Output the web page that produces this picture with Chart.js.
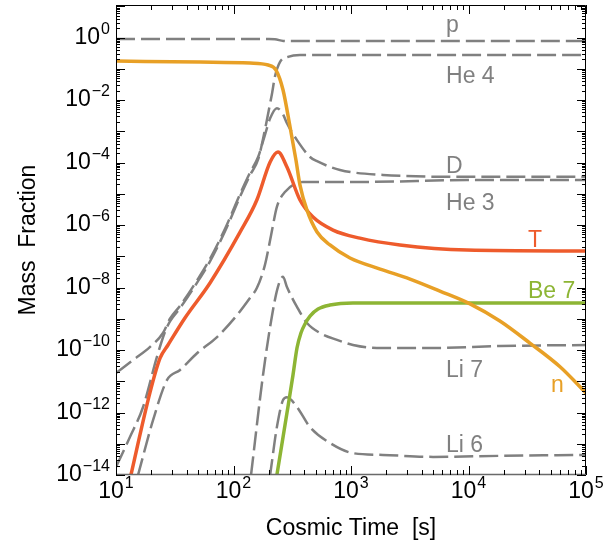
<!DOCTYPE html>
<html>
<head>
<meta charset="utf-8">
<script src="https://cdn.jsdelivr.net/npm/chart.js@4.4.1/dist/chart.umd.min.js"></script>
<style>
    body { margin: 0; background: #fff; }
    #wrap { width: 616px; height: 548px; position: relative; }
</style>
</head>
<body>
<div id="wrap"><canvas id="bbn-chart"></canvas></div>
<script>
// cosmic time [s] and mass fraction, one pair per species
const tP   = [10, 200, 225, 265, 300, 1e5];
const yP   = [0.89, 0.89, 0.88, 0.78, 0.77, 0.77];

const tHe4 = [10, 13.2, 17, 22.3, 26.1, 28.8, 35.1, 49.9, 63.1, 84.7, 114, 138, 162, 185, 205, 213, 225, 249, 291, 368, 1e5];
const yHe4 = [1.8e-14, 1.7e-13, 1.5e-12, 6.0e-11, 3.8e-10, 8.3e-10, 2.2e-9, 1.6e-8, 6.9e-8, 6.3e-7, 8.3e-6, 3.9e-5, 1.26e-4, 1.1e-3, 7.9e-3, 1.66e-2, 5.5e-2, 0.166, 0.24, 0.275, 0.275];

const tD   = [10, 14.0, 19.5, 25.1, 28.8, 35.1, 49.9, 63.1, 84.7, 114, 138, 162, 185, 205, 234, 264, 285, 347, 448, 514, 806, 1870, 9700, 1e5];
const yD   = [1.84e-11, 4.8e-11, 1.26e-10, 3.5e-10, 1.0e-9, 2.6e-9, 1.9e-8, 8.3e-8, 7.6e-7, 1.0e-5, 4.7e-5, 1.5e-4, 7.6e-4, 2.6e-3, 5.5e-3, 3.5e-3, 1.8e-3, 5.2e-4, 1.5e-4, 1.1e-4, 5.8e-5, 4.0e-5, 3.5e-5, 3.5e-5];

const tHe3 = [13.4, 15.4, 20.7, 27.2, 35.1, 48.9, 72.4, 107, 138, 158, 185, 205, 213, 234, 274, 390, 1370, 9700, 1e5];
const yHe3 = [1.5e-15, 1e-14, 5.8e-13, 1.1e-11, 2.3e-11, 7.9e-11, 2.6e-10, 1.3e-9, 4.6e-9, 9.6e-9, 5.2e-8, 3.3e-7, 6.9e-7, 3.8e-6, 1.14e-5, 2.4e-5, 2.4e-5, 2.75e-5, 2.75e-5];

const tT   = [11.9, 13.4, 19.5, 23.7, 27.7, 38.6, 63.1, 114, 158, 205, 239, 285, 368, 475, 703, 1190, 2610, 9700, 1e5];
const yT   = [1.4e-15, 1e-14, 4.5e-12, 5.5e-11, 1.45e-10, 1.06e-9, 1.4e-8, 6.0e-7, 6.3e-6, 1.04e-4, 2.17e-4, 7.2e-5, 6.3e-6, 1.8e-6, 6.9e-7, 3.8e-7, 2.3e-7, 1.58e-7, 1.47e-7];

const tN   = [10, 51.9, 138, 197, 230, 264, 303, 340, 368, 422, 514, 662, 980, 1770, 3180, 5710, 10300, 18500, 33300, 60100, 1e5];
const yN   = [0.177, 0.164, 0.153, 0.132, 0.091, 0.021, 1.37e-3, 1.2e-4, 1.9e-5, 3.0e-6, 6.0e-7, 2.3e-7, 8.8e-8, 3.9e-8, 1.87e-8, 7.7e-9, 3.0e-9, 8.5e-10, 1.67e-10, 2.9e-11, 4.2e-12];

const tBe7 = [217, 234, 285, 321, 347, 375, 406, 448, 524, 662, 1040, 1e5];
const yBe7 = [1.6e-15, 1e-14, 9.6e-13, 1.6e-11, 1.16e-10, 3.5e-10, 6.8e-10, 1.22e-9, 2.05e-9, 2.75e-9, 3.2e-9, 3.2e-9];

const tLi7 = [133, 141, 178, 213, 239, 264, 285, 347, 422, 545, 760, 1040, 1660, 4990, 18500, 1e5];
const yLi7 = [1.6e-15, 1e-14, 1.5e-11, 1.3e-9, 1.05e-8, 2.2e-8, 1.04e-8, 2.4e-9, 7.3e-10, 3.5e-10, 2.1e-10, 1.45e-10, 1.16e-10, 1.16e-10, 1.34e-10, 1.45e-10];

const tLi6 = [189, 205, 234, 264, 285, 347, 448, 662, 1040, 1870, 4990, 18500, 1e5];
const yLi6 = [1.3e-15, 1e-14, 3.4e-13, 2.5e-12, 3.1e-12, 1.5e-12, 3.4e-13, 1.06e-13, 5.0e-14, 4.4e-14, 3.8e-14, 4.1e-14, 4.4e-14];

// axis ticks (decade exponents)
const xDecades = [1, 2, 3, 4, 5];
const yLabelDecades = [0, -2, -4, -6, -8, -10, -12, -14];

// curve tags: text, and where they sit in data space
const tagText = ['p', 'He 4', 'D', 'He 3', 'T', 'Be 7', 'Li 7', 'n', 'Li 6'];
const tagTime = [6440, 6440, 6440, 6440, 32100, 32100, 6440, 50400, 6440];
const tagFrac = [1.56, 0.035, 4.6e-5, 3.0e-6, 2.0e-7, 4.6e-9, 1.37e-11, 4.5e-12, 5.4e-14];

const GREY = '#808080', ORANGE = '#E8A026', RED = '#EE5B2C', GREEN = '#8DB534';
const tagColor = [GREY, GREY, GREY, GREY, RED, GREEN, GREY, ORANGE, GREY];
const FONT = '"Liberation Sans", Arial, Helvetica, sans-serif';

function pts(ts, ys) {
    return ts.map((t, i) => ({ x: t, y: ys[i] }));
}

function dashed(label, ts, ys) {
    return {
        label: label, data: pts(ts, ys), borderColor: GREY, borderWidth: 2.5,
        borderDash: [19, 6], order: 2
    };
}

function solid(label, ts, ys, color) {
    return { label: label, data: pts(ts, ys), borderColor: color, borderWidth: 3.5, order: 1 };
}

// superscript power-of-ten label
function drawPow(ctx, exp, x, y, align) {
    const base = '10', sup = String(exp).replace('-', '\u2212');
    ctx.font = '23px ' + FONT;
    const wb = ctx.measureText(base).width;
    ctx.font = '16px ' + FONT;
    const ws = ctx.measureText(sup).width;
    const w = wb + 1 + ws;
    const x0 = align === 'right' ? x - w : x - w / 2;
    ctx.textAlign = 'left';
    ctx.textBaseline = 'middle';
    ctx.font = '23px ' + FONT;
    ctx.fillText(base, x0, y);
    ctx.font = '16px ' + FONT;
    ctx.fillText(sup, x0 + wb + 1, y - 8);
}

const framePlugin = {
    id: 'frame',
    afterDraw(chart) {
        const ctx = chart.ctx;
        const { left, right, top, bottom } = chart.chartArea;
        const xs = chart.scales.x, ys = chart.scales.y;
        ctx.save();
        ctx.lineWidth = 1;

        // frame
        ctx.strokeStyle = '#000';
        ctx.beginPath();
        ctx.moveTo(left + 0.5, bottom);
        ctx.lineTo(left + 0.5, top + 0.5);
        ctx.lineTo(right - 0.5, top + 0.5);
        ctx.lineTo(right - 0.5, bottom);
        ctx.stroke();
        ctx.strokeStyle = '#6a6a6a';
        ctx.lineWidth = 1.5;
        ctx.beginPath();
        ctx.moveTo(left, bottom - 0.5);
        ctx.lineTo(right, bottom - 0.5);
        ctx.stroke();

        // ticks on all four sides, pointing inwards
        ctx.strokeStyle = '#000';
        ctx.lineWidth = 1;
        ctx.beginPath();
        for (let d = 1; d <= 5; d++) {
            for (let m = 1; m <= 9; m++) {
                const v = m * Math.pow(10, d);
                if (v > 1e5 || (m > 1 && d === 5)) continue;
                const px = Math.round(xs.getPixelForValue(v)) + 0.5;
                const len = m === 1 ? 9 : 5;
                ctx.moveTo(px, bottom); ctx.lineTo(px, bottom - len);
                ctx.moveTo(px, top); ctx.lineTo(px, top + len);
            }
        }
        for (let d = -14; d <= 1; d++) {
            for (let m = 1; m <= 9; m++) {
                const v = m * Math.pow(10, d);
                if (v > ys.max) continue;
                const py = Math.round(ys.getPixelForValue(v)) + 0.5;
                const len = m === 1 ? 9 : 4;
                ctx.moveTo(left, py); ctx.lineTo(left + len, py);
                ctx.moveTo(right, py); ctx.lineTo(right - len, py);
            }
        }
        ctx.stroke();

        // tick labels
        ctx.fillStyle = '#000';
        yLabelDecades.forEach(d => drawPow(ctx, d, left - 6, ys.getPixelForValue(Math.pow(10, d)), 'right'));
        xDecades.forEach(d => drawPow(ctx, d, xs.getPixelForValue(Math.pow(10, d)), bottom + 17, 'center'));

        // axis titles
        ctx.font = '23px ' + FONT;
        ctx.textAlign = 'center';
        ctx.textBaseline = 'alphabetic';
        ctx.fillText('Cosmic Time  [s]', (left + right) / 2, 535);
        ctx.save();
        ctx.translate(35, (top + bottom) / 2);
        ctx.rotate(-Math.PI / 2);
        ctx.fillText('Mass  Fraction', 0, 0);
        ctx.restore();

        // curve tags
        ctx.textAlign = 'left';
        tagText.forEach((txt, i) => {
            ctx.fillStyle = tagColor[i];
            ctx.fillText(txt, xs.getPixelForValue(tagTime[i]), ys.getPixelForValue(tagFrac[i]));
        });
        ctx.restore();
    }
};

new Chart(document.getElementById('bbn-chart'), {
    type: 'line',
    data: {
        datasets: [
            solid('n', tN, yN, ORANGE),
            solid('T', tT, yT, RED),
            solid('Be 7', tBe7, yBe7, GREEN),
            dashed('p', tP, yP),
            dashed('He 4', tHe4, yHe4),
            dashed('D', tD, yD),
            dashed('He 3', tHe3, yHe3),
            dashed('Li 7', tLi7, yLi7),
            dashed('Li 6', tLi6, yLi6)
        ]
    },
    options: {
        responsive: true,
        maintainAspectRatio: false,
        animation: false,
        layout: { padding: { left: 116, right: 30, top: 5, bottom: 73 } },
        elements: {
            point: { radius: 0 },
            line: { cubicInterpolationMode: 'monotone', fill: false }
        },
        datasets: { line: { clip: 0 } },
        plugins: { legend: { display: false }, tooltip: { enabled: false } },
        scales: {
            x: { type: 'logarithmic', min: 10, max: 1e5, display: false },
            y: { type: 'logarithmic', min: 1e-14, max: 11, display: false }
        }
    },
    plugins: [framePlugin]
});
</script>
</body>
</html>
